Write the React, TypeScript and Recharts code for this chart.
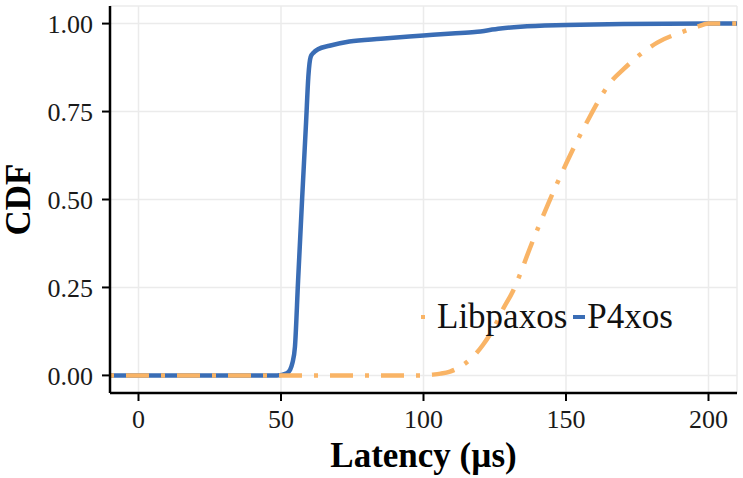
import React from 'react'
import { LineChart, Line, XAxis, YAxis, CartesianGrid, Legend } from 'recharts'

// latency (µs) / cumulative fraction pairs for each system
const p4xosLatency = [-10, 48.6, 52, 53.2, 54, 54.9, 56, 57.4, 58.8, 59.6, 60.4, 61.5, 63, 67, 74, 85, 100, 110, 118, 127, 134, 150, 170, 200, 210]
const p4xosCdf = [0, 0, 0.006, 0.016, 0.035, 0.082, 0.27, 0.5, 0.72, 0.85, 0.905, 0.918, 0.927, 0.937, 0.949, 0.957, 0.966, 0.972, 0.976, 0.986, 0.991, 0.996, 0.999, 1, 1]

const libpaxosLatency = [-10, 100, 103, 106, 109.3, 113.9, 117, 120.9, 125, 128, 131.4, 134, 137.4, 140.5, 143.7, 147, 150.4, 154, 157.4, 161, 165.5, 170, 176, 182, 190, 196, 200, 210]
const libpaxosCdf = [0, 0, 0.002, 0.005, 0.011, 0.03, 0.05, 0.087, 0.14, 0.19, 0.24, 0.29, 0.363, 0.425, 0.487, 0.548, 0.608, 0.668, 0.721, 0.775, 0.832, 0.869, 0.912, 0.946, 0.974, 0.991, 1, 1]

const xTicks = [0, 50, 100, 150, 200]
const yTicks = [0, 0.25, 0.5, 0.75, 1]

const SERIF = '"Liberation Serif", "Times New Roman", serif'
const BLUE = '#3a6db5'
const ORANGE = '#f9b466'
const DOTDASH = '4 12 23 12'

const p4xos = p4xosLatency.map((x, i) => ({ latency: x, cdf: p4xosCdf[i] }))
const libpaxos = libpaxosLatency.map((x, i) => ({ latency: x, cdf: libpaxosCdf[i] }))

// eslint-disable-next-line @typescript-eslint/no-explicit-any
function XTitle({ viewBox }: any) {
  const cx = viewBox.x + viewBox.width / 2
  return (
    <text x={cx} y={467} textAnchor="middle" fontFamily={SERIF} fontSize={35} fontWeight="bold" fill="#000">
      Latency (µs)
    </text>
  )
}

// eslint-disable-next-line @typescript-eslint/no-explicit-any
function YTitle({ viewBox }: any) {
  const cy = viewBox.y + viewBox.height / 2
  return (
    <text
      x={30}
      y={cy}
      transform={`rotate(-90, 30, ${cy})`}
      textAnchor="middle"
      fontFamily={SERIF}
      fontSize={35}
      fontWeight="bold"
      fill="#000"
    >
      CDF
    </text>
  )
}

function LegendBox() {
  return (
    <div style={{ display: 'flex', alignItems: 'center', fontFamily: SERIF, fontSize: 35, lineHeight: 1, color: '#111', whiteSpace: 'nowrap' }}>
      <svg width={19} height={20}>
        <line x1={3} x2={19} y1={10} y2={10} stroke={ORANGE} strokeWidth={4} strokeDasharray={DOTDASH} />
      </svg>
      <span>Libpaxos</span>
      <svg width={20} height={20}>
        <line x1={6} x2={18} y1={10} y2={10} stroke={BLUE} strokeWidth={4} />
      </svg>
      <span>P4xos</span>
    </div>
  )
}

export default function App() {
  return (
    <div style={{ position: 'absolute', left: 0, top: 0, width: 743, height: 478, background: '#fff' }}>
      <LineChart width={743} height={478} margin={{ top: 6, right: 6, bottom: 0, left: 0 }}>
        <CartesianGrid stroke="#ebebeb" strokeWidth={1.5} />
        <XAxis
          type="number"
          dataKey="latency"
          domain={[-10, 210]}
          ticks={xTicks}
          allowDataOverflow
          height={85}
          tickSize={8}
          tickMargin={9}
          tick={{ fill: '#1a1a1a', fontSize: 26, fontFamily: SERIF }}
          tickLine={{ stroke: '#000', strokeWidth: 2 }}
          axisLine={{ stroke: '#000', strokeWidth: 2.5 }}
          label={<XTitle />}
        />
        <YAxis
          type="number"
          dataKey="cdf"
          domain={[-0.05, 1.05]}
          ticks={yTicks}
          allowDataOverflow
          width={110}
          tickSize={8}
          tickMargin={9}
          tickFormatter={(v: number) => v.toFixed(2)}
          tick={{ fill: '#1a1a1a', fontSize: 26, fontFamily: SERIF }}
          tickLine={{ stroke: '#000', strokeWidth: 2 }}
          axisLine={{ stroke: '#000', strokeWidth: 2.5 }}
          label={<YTitle />}
        />
        <Legend
          layout="vertical"
          align="center"
          verticalAlign="middle"
          wrapperStyle={{ left: 418, top: 299, width: 'auto' }}
          content={<LegendBox />}
        />
        <Line
          data={p4xos}
          dataKey="cdf"
          name="P4xos"
          type="monotone"
          stroke={BLUE}
          strokeWidth={4.5}
          dot={false}
          activeDot={false}
          isAnimationActive={false}
        />
        <Line
          data={libpaxos}
          dataKey="cdf"
          name="Libpaxos"
          type="monotone"
          stroke={ORANGE}
          strokeWidth={4.5}
          strokeDasharray={DOTDASH}
          dot={false}
          activeDot={false}
          isAnimationActive={false}
        />
      </LineChart>
    </div>
  )
}
